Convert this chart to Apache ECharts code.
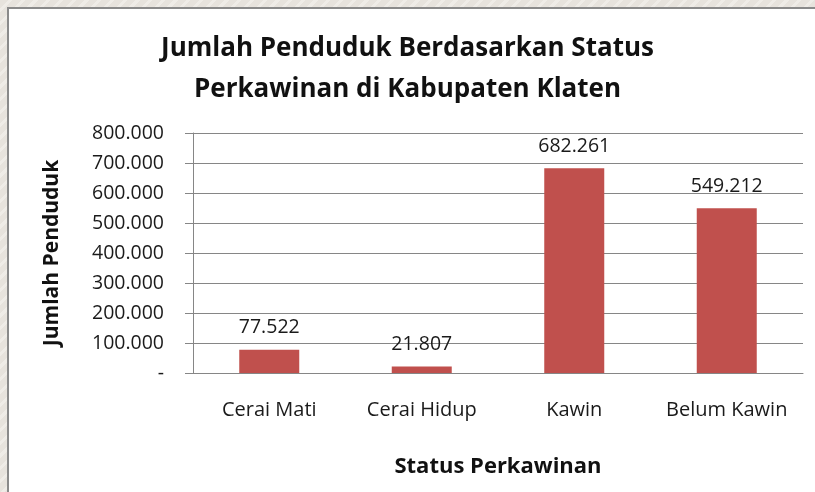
<!DOCTYPE html>
<html>
<head>
<meta charset="utf-8">
<script src="https://cdn.jsdelivr.net/npm/echarts@6/dist/echarts.min.js"></script>
<style>
    html, body { margin: 0; padding: 0; }
    body {
        width: 815px; height: 492px; overflow: hidden; position: relative;
        background: #e7e3dd repeating-linear-gradient(135deg, #e7e3dd 0px, #e7e3dd 6px, #efece7 6px, #efece7 9px);
    }
    #frame {
        position: absolute; left: 7px; top: 7px; width: 830px; height: 510px;
        background: #fff; border: 2px solid #8a8a8a;
    }
    #chart_con { position: absolute; left: 0; top: 0; width: 815px; height: 492px; }
</style>
</head>
<body>
<div id="frame"></div>
<div id="chart_con"></div>
<script>
// data
var categories = ['Cerai Mati', 'Cerai Hidup', 'Kawin', 'Belum Kawin'];
var penduduk = [77522, 21807, 682261, 549212];
var yTicks = [0, 100000, 200000, 300000, 400000, 500000, 600000, 700000, 800000];

// 682261 -> "682.261", 0 -> "-"
function fmt(v) {
    if (v === 0) return '-';
    return String(v).replace(/\B(?=(\d{3})+(?!\d))/g, '.');
}

var fontName = '"Open Sans", sans-serif';
var axisGray = '#868686';

var option = {
    animation: false,
    title: {
        text: 'Jumlah Penduduk Berdasarkan Status\nPerkawinan di Kabupaten Klaten',
        left: 'center',
        top: 28,
        padding: [0, 0, 0, 15],
        textStyle: {
            fontFamily: fontName,
            fontSize: 26,
            fontWeight: 'bold',
            color: '#111',
            lineHeight: 41
        }
    },
    grid: {
        left: 193,
        right: 12,
        top: 133,
        bottom: 119
    },
    xAxis: {
        type: 'category',
        data: categories,
        name: 'Status Perkawinan',
        nameLocation: 'middle',
        nameGap: 83,
        nameTextStyle: {
            fontFamily: fontName,
            fontSize: 22,
            fontWeight: 'bold',
            color: '#111'
        },
        axisLine: { lineStyle: { color: axisGray, width: 1 } },
        axisTick: { show: false },
        axisLabel: {
            interval: 0,
            margin: 27,
            fontFamily: fontName,
            fontSize: 20,
            color: '#1a1a1a'
        }
    },
    yAxis: {
        type: 'value',
        min: yTicks[0],
        max: yTicks[yTicks.length - 1],
        interval: yTicks[1] - yTicks[0],
        name: 'Jumlah Penduduk',
        nameLocation: 'middle',
        nameGap: 130,
        nameRotate: 90,
        nameTextStyle: {
            fontFamily: fontName,
            fontSize: 21,
            fontWeight: 'bold',
            color: '#111'
        },
        axisLine: { show: true, lineStyle: { color: axisGray, width: 1 } },
        axisTick: { show: true, length: 8, lineStyle: { color: axisGray } },
        splitLine: { lineStyle: { color: axisGray, width: 1 } },
        axisLabel: {
            margin: 29,
            fontFamily: fontName,
            fontSize: 19.5,
            color: '#1a1a1a',
            formatter: fmt
        }
    },
    series: [
        {
            type: 'bar',
            data: penduduk,
            barWidth: 60,
            itemStyle: { color: '#C0504D' },
            label: {
                show: true,
                position: 'top',
                distance: 12,
                fontFamily: fontName,
                fontSize: 19.5,
                color: '#1a1a1a',
                formatter: function (p) { return fmt(p.value); }
            }
        }
    ]
};

var chart = echarts.init(document.getElementById('chart_con'));
chart.setOption(option);
</script>
</body>
</html>
